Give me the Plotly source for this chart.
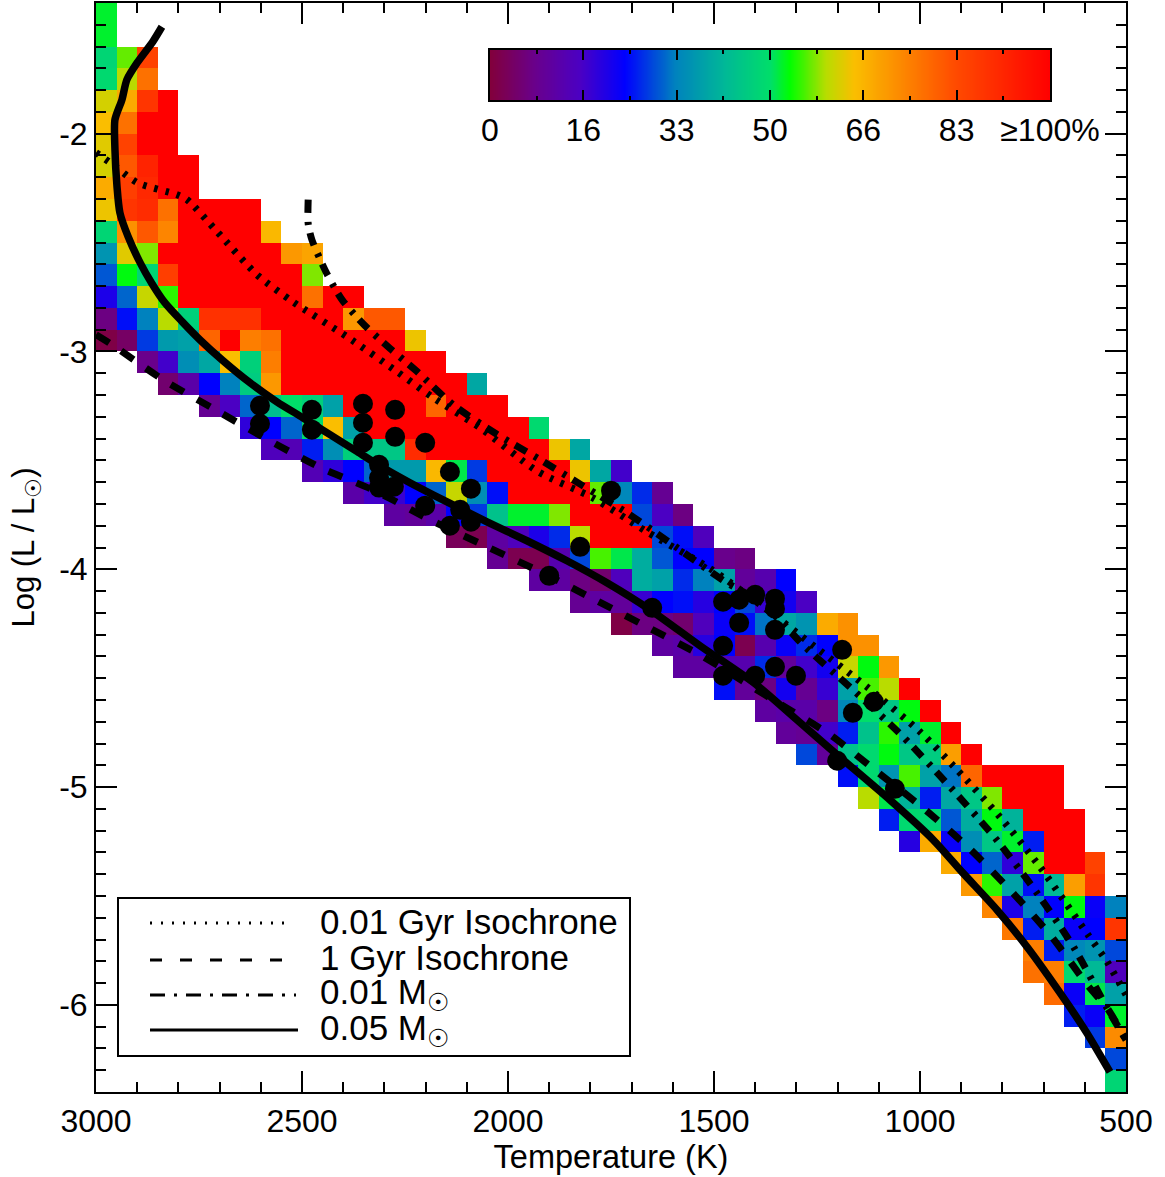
import plotly.graph_objects as go

W, H = 1165, 1177
L_M, R_M, T_M, B_M = 96, 39, 3, 85
PW, PH = W - L_M - R_M, H - T_M - B_M
FONT = "Liberation Sans"

# --- occupancy grid: one row per 0.1 dex, from log L = -1.4 downward; cells are 50 K wide
ROW_FIRST_TEMP = [3000, 3000, 3000, 3000, 3000, 3000, 3000, 3000, 3000, 3000,
                  3000, 3000, 3000, 3000, 3000, 3000, 2900, 2850, 2750, 2650,
                  2600, 2500, 2400, 2300, 2150, 2050, 1950, 1850, 1750, 1650,
                  1600, 1500, 1400, 1350, 1300, 1200, 1150, 1100, 1050, 950,
                  900, 850, 800, 750, 750, 700, 650, 600, 550, 550]
ROW_VALUES = [
    [52],
    [52],
    [48, 57, 85],
    [49, 60, 77],
    [62, 68, 88, 100],
    [65, 77, 100, 100],
    [63, 85, 100, 100],
    [62, 81, 92, 100, 100],
    [68, 86, 91, 100, 100],
    [64, 88, 90, 77, 100, 100, 100, 100],
    [48, 72, 81, 74, 100, 100, 100, 100, 66],
    [36, 63, 58, 100, 100, 100, 100, 100, 100, 71, 69],
    [30, 53, 48, 86, 100, 100, 100, 100, 100, 100, 58],
    [21, 31, 61, 55, 100, 100, 100, 100, 100, 100, 77, 100, 100],
    [7, 25, 33, 60, 47, 89, 89, 89, 100, 100, 100, 100, 71, 81, 81],
    [1, 4, 28, 37, 38, 79, 100, 75, 77, 100, 100, 100, 100, 100, 100, 64],
    [8, 17, 35, 39, 65, 47, 75, 100, 100, 100, 100, 100, 100, 100, 100],
    [5, 12, 24, 33, 46, 71, 100, 100, 100, 100, 100, 100, 100, 100, 100, 39],
    [9, 16, 31, 43, 50, 47, 38, 100, 100, 100, 100, 79, 100, 100, 100],
    [19, 24, 31, 49, 65, 38, 100, 100, 100, 100, 100, 100, 100, 100, 49],
    [15, 14, 26, 35, 47, 45, 45, 90, 100, 100, 100, 100, 100, 100, 64, 39],
    [14, 19, 24, 31, 37, 37, 66, 51, 28, 100, 100, 100, 100, 64, 39, 17],
    [12, 17, 18, 24, 31, 61, 35, 25, 100, 100, 100, 100, 57, 34, 27, 9],
    [11, 10, 12, 24, 28, 44, 52, 52, 58, 100, 100, 100, 29, 16, 7],
    [3, 2, 11, 15, 21, 27, 60, 100, 100, 100, 29, 25, 15],
    [9, 2, 2, 13, 29, 56, 51, 40, 30, 24, 24, 8, 7],
    [11, 11, 7, 5, 15, 40, 38, 27, 33, 38, 10, 13, 24],
    [9, 11, 10, 18, 24, 25, 20, 24, 29, 18, 22, 16],
    [1, 7, 7, 5, 15, 23, 25, 32, 39, 36, 68, 72],
    [11, 12, 20, 24, 2, 13, 23, 27, 24, 72, 72],
    [11, 11, 14, 13, 27, 10, 17, 22, 61, 53, 71],
    [25, 10, 7, 22, 9, 18, 38, 56, 60, 100],
    [11, 12, 12, 7, 34, 50, 45, 53, 100],
    [10, 9, 17, 26, 44, 55, 38, 52, 100],
    [29, 10, 44, 49, 53, 45, 46, 70, 100],
    [25, 49, 36, 56, 38, 32, 79, 100, 100, 100, 100],
    [60, 51, 41, 26, 39, 45, 58, 100, 100, 100],
    [26, 49, 48, 30, 40, 53, 41, 100, 100, 100],
    [20, 68, 23, 35, 45, 52, 26, 100, 100],
    [68, 24, 31, 19, 57, 100, 100, 85],
    [71, 55, 38, 25, 42, 70, 88],
    [74, 21, 33, 24, 53, 23, 33],
    [76, 26, 40, 23, 24, 88],
    [75, 26, 34, 36, 29],
    [77, 75, 49, 42, 15],
    [78, 23, 51, 38],
    [26, 23, 52],
    [28, 73],
    [29],
    [48],
]

# --- tracks
MASS05_T = [2840, 2862, 2900, 2925, 2937, 2954, 2954, 2949, 2942, 2922, 2893, 2864, 2833, 2791, 2748, 2692, 2626, 2561, 2498, 2432, 2366, 2303, 2238, 2182, 2051, 1954, 1857, 1760, 1655, 1534, 1400, 1299, 1201, 1073, 968, 896, 813, 740, 660, 595, 539]
MASS05_L = [-1.509, -1.577, -1.674, -1.752, -1.844, -1.936, -2.073, -2.243, -2.363, -2.473, -2.592, -2.689, -2.776, -2.863, -2.946, -3.042, -3.144, -3.231, -3.304, -3.382, -3.460, -3.534, -3.603, -3.658, -3.782, -3.869, -3.961, -4.062, -4.186, -4.351, -4.526, -4.691, -4.852, -5.059, -5.242, -5.394, -5.564, -5.734, -5.945, -6.129, -6.308]
GYR1_T = [3000, 2961, 2837, 2711, 2583, 2454, 2318, 2189, 2056, 1922, 1794, 1663, 1534, 1357, 1218, 1104, 993, 879, 777, 680, 592, 546, 500]
GYR1_L = [-2.923, -2.969, -3.130, -3.267, -3.405, -3.534, -3.644, -3.773, -3.892, -4.011, -4.135, -4.264, -4.393, -4.599, -4.760, -4.930, -5.095, -5.284, -5.481, -5.688, -5.913, -6.014, -6.161]
GYR001_T = [3000, 2959, 2900, 2803, 2779, 2706, 2609, 2522, 2391, 2269, 2182, 2068, 1927, 1794, 1663, 1505, 1381, 1255, 1129, 1000, 910, 806, 709, 592, 546, 500]
GYR001_L = [-2.087, -2.142, -2.225, -2.280, -2.303, -2.450, -2.648, -2.772, -2.932, -3.093, -3.212, -3.350, -3.552, -3.672, -3.828, -4.002, -4.172, -4.356, -4.540, -4.746, -4.921, -5.137, -5.366, -5.679, -5.802, -5.954]
MASS001_T = [2485, 2485, 2476, 2442, 2403, 2347, 2286, 2223, 2133, 2029, 1922, 1818, 1711, 1607, 1473, 1376, 1284, 1163, 1041, 927, 818, 718, 626, 546, 500]
MASS001_L = [-2.303, -2.413, -2.487, -2.634, -2.762, -2.882, -2.987, -3.088, -3.245, -3.378, -3.497, -3.617, -3.741, -3.878, -4.057, -4.163, -4.347, -4.553, -4.769, -4.999, -5.233, -5.481, -5.738, -6.014, -6.161]

# --- objects
OBJ_T = [2602, 2602, 2476, 2476, 2352, 2352, 2352, 2274, 2274, 2201, 2313, 2313, 2313, 2277, 2141, 2090, 2201, 2116, 2141, 2090, 1750, 1825, 1900, 1650, 1478, 1439, 1400, 1352, 1352, 1439, 1352, 1478, 1189, 1478, 1400, 1352, 1301, 1112, 1163, 1201, 1061]
OBJ_L = [-3.249, -3.332, -3.268, -3.359, -3.240, -3.327, -3.419, -3.268, -3.392, -3.419, -3.520, -3.580, -3.625, -3.621, -3.552, -3.630, -3.708, -3.727, -3.800, -3.782, -3.639, -3.897, -4.030, -4.177, -4.149, -4.140, -4.117, -4.135, -4.181, -4.246, -4.278, -4.351, -4.370, -4.489, -4.489, -4.448, -4.489, -4.608, -4.659, -4.879, -5.008]

# --- labels
X_TICKS = [3000, 2500, 2000, 1500, 1000, 500]
Y_TICKS = [-2, -3, -4, -5, -6]
Y_TICK_TEXT = ["-2", "-3", "-4", "-5", "-6"]
CBAR_TICKS = [0, 16.67, 33.33, 50, 66.67, 83.33, 100]
CBAR_TEXT = ["0", "16", "33", "50", "66", "83", "≥100%"]
LEGEND_LABELS = ["0.01 Gyr Isochrone", "1 Gyr Isochrone",
                 "0.01 M<sub>☉</sub>", "0.05 M<sub>☉</sub>"]

COLORSCALE = [
    [0.00, "rgb(130,0,60)"],
    [0.08, "rgb(105,0,140)"],
    [0.16, "rgb(75,0,195)"],
    [0.24, "rgb(0,0,255)"],
    [0.33, "rgb(0,130,190)"],
    [0.42, "rgb(0,185,150)"],
    [0.50, "rgb(0,222,105)"],
    [0.535, "rgb(0,255,0)"],
    [0.60, "rgb(185,220,0)"],
    [0.65, "rgb(250,190,0)"],
    [0.83, "rgb(255,75,0)"],
    [1.00, "rgb(255,0,0)"],
]

N_COLS, N_ROWS = 50, len(ROW_VALUES)
x_centers = [3000 - 50 * i - 25 for i in range(N_COLS)]
y_centers = [-1.4 - 0.1 * k - 0.05 for k in range(N_ROWS)]
z = [[None] * N_COLS for _ in range(N_ROWS)]
for k, (first, vals) in enumerate(zip(ROW_FIRST_TEMP, ROW_VALUES)):
    c0 = int(round((3000 - first) / 50))
    for j, v in enumerate(vals):
        z[k][c0 + j] = v

fig = go.Figure()
fig.add_trace(go.Heatmap(x=x_centers, y=y_centers, z=z, zmin=0, zmax=100,
                         colorscale=COLORSCALE, showscale=False, hoverongaps=False,
                         xaxis="x", yaxis="y"))

line_sets = [
    ("0.01 Gyr Isochrone", GYR001_T, GYR001_L, 7, "3.5px,8px"),
    ("1 Gyr Isochrone", GYR1_T, GYR1_L, 7, "15px,15px"),
    ("0.01 M☉", MASS001_T, MASS001_L, 7, "13px,9px,3.5px,8px"),
    ("0.05 M☉", MASS05_T, MASS05_L, 7.5, "solid"),
]
for name, xs, ys, w, dash in line_sets:
    fig.add_trace(go.Scatter(x=xs, y=ys, mode="lines", name=name, showlegend=False,
                             line=dict(color="black", width=w, dash=dash, shape="spline", smoothing=0.7),
                             xaxis="x", yaxis="y"))
fig.add_trace(go.Scatter(x=OBJ_T, y=OBJ_L, mode="markers", name="Objects", showlegend=False,
                         marker=dict(color="black", size=20), xaxis="x", yaxis="y"))

# colour bar as its own small axes
CBAR_LEVELS = list(range(101))
fig.add_trace(go.Heatmap(x=CBAR_LEVELS, y=[0, 1], z=[CBAR_LEVELS, CBAR_LEVELS], zmin=0, zmax=100,
                         colorscale=COLORSCALE, showscale=False, hoverinfo="skip", zsmooth="best",
                         xaxis="x2", yaxis="y2"))


def xfrac(px):
    return (px - L_M) / PW


def yfrac(py):
    return (H - B_M - py) / PH


axis_common = dict(showgrid=False, zeroline=False, showline=True, linecolor="black", linewidth=2,
                   mirror="ticks", ticks="inside", tickcolor="black", tickwidth=2,
                   tickfont=dict(family=FONT, size=32, color="black"))

shapes = [dict(type="rect", xref="paper", yref="paper", x0=xfrac(118), x1=xfrac(630),
               y0=yfrac(1056), y1=yfrac(898), fillcolor="white",
               line=dict(color="black", width=2), layer="above")]
swatch_style = [
    (923, 288, 3, "2px,9px"),
    (960, 286, 3, "12px,18px"),
    (995, 296, 3, "15px,9px,3px,9px"),
    (1030, 298, 3, "solid"),
]
annotations = []
for label, (yy, x_end, lw, dash), ty in zip(LEGEND_LABELS, swatch_style, [921, 957, 994, 1030]):
    shapes.append(dict(type="line", xref="paper", yref="paper", x0=xfrac(150), x1=xfrac(x_end),
                       y0=yfrac(yy), y1=yfrac(yy), line=dict(color="black", width=lw, dash=dash),
                       layer="above"))
    annotations.append(dict(text=label, xref="paper", yref="paper", x=xfrac(318), y=yfrac(ty),
                            xanchor="left", yanchor="middle", showarrow=False,
                            font=dict(family=FONT, size=35, color="black")))

fig.update_layout(
    width=W, height=H, margin=dict(l=L_M, r=R_M, t=T_M, b=B_M, autoexpand=False),
    paper_bgcolor="white", plot_bgcolor="white", showlegend=False,
    font=dict(family=FONT, size=32, color="black"),
    xaxis=dict(domain=[0, 1], range=[3000, 500], tickmode="array", tickvals=X_TICKS,
               ticktext=[str(v) for v in X_TICKS], ticklen=21,
               minor=dict(dtick=100, tick0=500, ticklen=10, ticks="inside", tickcolor="black", tickwidth=2),
               title=dict(text="Temperature (K)", font=dict(family=FONT, size=32.5, color="black"), standoff=4),
               **axis_common),
    yaxis=dict(domain=[0, 1], range=[-6.4, -1.4], tickmode="array", tickvals=Y_TICKS,
               ticktext=Y_TICK_TEXT, ticklen=21,
               minor=dict(dtick=0.1, tick0=-2, ticklen=10, ticks="inside", tickcolor="black", tickwidth=2),
               title=dict(text="Log (L / L<sub>☉</sub>)", font=dict(family=FONT, size=31, color="black"), standoff=15),
               **axis_common),
    xaxis2=dict(domain=[xfrac(490), xfrac(1050)], range=[0, 100], anchor="y2", tickmode="array",
                tickvals=CBAR_TICKS, ticktext=CBAR_TEXT, ticklen=10, ticklabelstandoff=1,
                minor=dict(dtick=8.3333, tick0=0, ticklen=4, ticks="inside", tickcolor="black", tickwidth=2),
                **axis_common),
    yaxis2=dict(domain=[yfrac(100), yfrac(50)], range=[0, 1], anchor="x2", showticklabels=False,
                ticks="", showgrid=False, zeroline=False, showline=True, linecolor="black",
                linewidth=2, mirror=True),
    shapes=shapes, annotations=annotations,
)

fig.write_html("out.html", config={"displayModeBar": False},
               post_script="document.body.style.margin='0';document.body.style.overflow='hidden';")
